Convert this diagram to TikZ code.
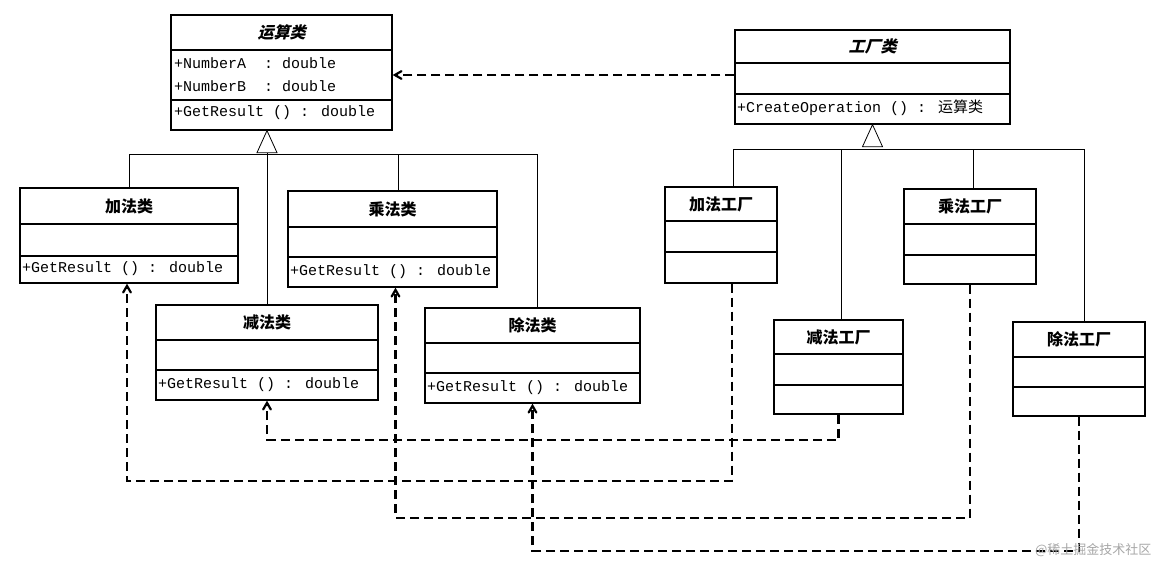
\documentclass[tikz,border=0pt]{standalone}
\usepackage{fontspec}
\setmainfont{Liberation Mono}
\newfontfamily\cjk{Noto Sans CJK SC}
\newfontfamily\cjkit{Noto Sans CJK SC}[FakeSlant=0.25]
\usetikzlibrary{fit, arrows}
\tikzset{
x=1pt, y=-1pt, % pixel grid, y grows downwards
box/.style={draw, line width=1.3pt, inner sep=0pt},
member/.style={anchor=west, inner sep=0pt, font=\fontsize{15}{15}\selectfont},
title/.style={font=\fontsize{16}{16}\cjk\bfseries},
gen/.style={line width=0.8pt},
dep/.style={line width=2.2pt, dash pattern=on 9pt off 5pt, ->, >=angle 60},
}
% name, left, top, right, bottom, first divider, second divider, title
\newcommand\classbox[8]{
  \node[box, fit={(#2,#3)(#4,#5)}] (#1) {};
  \draw[line width=1.3pt] (#2,#6) -- (#4,#6) (#2,#7) -- (#4,#7);
  \node[title] at ({(#2+#4)/2},{(#3+#6)/2}) {#8};
}
\begin{document}
\begin{tikzpicture}
    \useasboundingbox (0,0) rectangle (1158,568);

    % product side
    \classbox{op}{171}{15}{392}{130}{50}{100}{\cjkit 运算类}
    \node[member] at (174,63) {+NumberA\ \ : double};
    \node[member] at (174,86) {+NumberB\ \ : double};
    \node[member] at (174,113) {+GetResult () : double};

    \classbox{add}{20}{188}{238}{283}{224}{256}{加法类}
    \node[member] at (22,269) {+GetResult () : double};
    \classbox{mul}{288}{191}{497}{287}{227}{257}{乘法类}
    \node[member] at (290,272) {+GetResult () : double};
    \classbox{sub}{156}{305}{378}{400}{340}{370}{减法类}
    \node[member] at (158,385) {+GetResult () : double};
    \classbox{div}{425}{308}{640}{403}{343}{373}{除法类}
    \node[member] at (427,388) {+GetResult () : double};

    % factory side
    \classbox{fac}{735}{30}{1010}{124}{63}{94}{\cjkit 工厂类}
    \node[member] at (737,108) {+CreateOperation () : {\cjk 运算类}};

    \classbox{addf}{665}{187}{777}{283}{221}{252}{加法工厂}
    \classbox{mulf}{904}{189}{1036}{284}{224}{255}{乘法工厂}
    \classbox{subf}{774}{320}{903}{414}{354}{385}{减法工厂}
    \classbox{divf}{1013}{322}{1145}{416}{357}{387}{除法工厂}

    % generalisation
    \coordinate (optip) at (sub.north |- op.south);
    \draw[gen, fill=white] (optip) -- ++(-10,22) -- ++(20,0) -- cycle;
    \draw[gen] (add.north) -- ++(0,-33) -| ([xshift=5pt]div.north);
    \draw[gen] ([xshift=6pt]mul.north) -- ++(0,-36);
    \draw[gen] (sub.north) -- ([yshift=-22pt]optip);

    \draw[gen, fill=white] (fac.south) -- ++(-10,22) -- ++(20,0) -- cycle;
    \draw[gen] ([xshift=12pt]addf.north) -- ++(0,-37) -| ([xshift=5pt]divf.north);
    \draw[gen] ([xshift=3pt]subf.north) -- ++(0,-170);
    \draw[gen] ([xshift=3pt]mulf.north) -- ++(0,-39);

    % dependencies
    \draw[dep] (fac.west |- 0,75) -- (op.east |- 0,75);
    \draw[dep] (subf.south) -- ++(0,25) -| (sub.south);
    \draw[dep] ([xshift=11pt]addf.south) -- ++(0,197) -| ([xshift=-2pt]add.south);
    \draw[dep] (mulf.south) -- ++(0,233) -| ([xshift=3pt]mul.south);
    \draw[dep] (divf.south) -- ++(0,134) -| (div.south);

    \node[anchor=east, text=gray!70, font=\fontsize{13}{13}\cjk] (mark) at (1155,550) {@稀土掘金技术社区};
\end{tikzpicture}
\end{document}
